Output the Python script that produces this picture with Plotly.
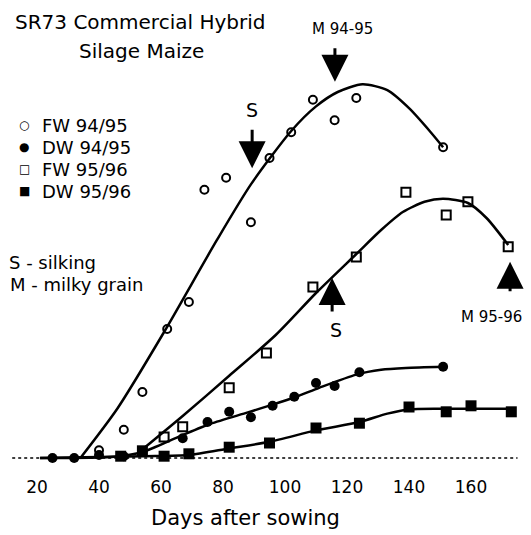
import plotly.graph_objects as go

# ---------------- data (days after sowing, arbitrary weight units) ----------------
fw9495_days = [40, 48, 54, 62, 69, 74, 81, 89, 95, 102, 109, 116, 123, 151]
fw9495_vals = [1.3, 4.7, 11.0, 21.5, 26.0, 44.7, 46.7, 39.3, 50.0, 54.3, 59.7, 56.3, 60.0, 51.8]

dw9495_days = [25, 32, 40, 48, 54, 67, 75, 82, 89, 96, 103, 110, 116, 124, 151]
dw9495_vals = [0, 0, 0.5, 0.3, 1.0, 3.3, 6.0, 7.7, 6.8, 8.7, 10.2, 12.5, 12.0, 14.3, 15.2]

fw9596_days = [61, 67, 82, 94, 109, 123, 139, 152, 159, 172]
fw9596_vals = [3.5, 5.2, 11.7, 17.5, 28.5, 33.5, 44.3, 40.5, 42.7, 35.2]

dw9596_days = [47, 54, 61, 69, 82, 95, 110, 124, 140, 152, 160, 173]
dw9596_vals = [0.3, 1.2, 0.3, 0.7, 1.8, 2.5, 5.0, 5.8, 8.5, 7.7, 8.7, 7.7]

# fitted curves
fit_fw9495_days = [34, 46, 61, 78, 89, 102, 110, 117, 125, 133, 140, 147, 151]
fit_fw9495_vals = [0, 8.3, 21.0, 36.3, 45.6, 54.5, 58.6, 61.0, 62.3, 61.3, 58.3, 54.3, 51.8]

fit_fw9596_days = [53, 67, 82, 97, 110, 123, 131, 138, 145, 151, 159, 165, 172]
fit_fw9596_vals = [1.0, 7.0, 13.7, 20.5, 27.5, 34.0, 38.0, 41.0, 42.7, 43.2, 42.5, 40.0, 35.5]

fit_dw9495_days = [21, 45, 54, 66, 76, 88, 96, 104, 111, 123, 131, 139, 151]
fit_dw9495_vals = [0, 0.2, 1.0, 3.6, 5.7, 7.6, 8.9, 10.3, 11.7, 13.9, 14.7, 15.0, 15.2]

fit_dw9596_days = [21, 54, 69, 82, 95, 110, 124, 133, 140, 150, 160, 173]
fit_dw9596_vals = [0, 0.3, 0.5, 1.6, 2.7, 4.6, 6.0, 7.4, 8.1, 8.2, 8.2, 8.2]

series_names = ["FW 94/95", "DW 94/95", "FW 95/96", "DW 95/96"]
legend_symbols = ["○", "●", "□", "■"]
tick_days = [20, 40, 60, 80, 100, 120, 140, 160]

FONT = "DejaVu Sans"
fig = go.Figure()

# fitted lines
for dd, vv in [(fit_fw9495_days, fit_fw9495_vals), (fit_fw9596_days, fit_fw9596_vals),
               (fit_dw9495_days, fit_dw9495_vals), (fit_dw9596_days, fit_dw9596_vals)]:
    fig.add_trace(go.Scatter(x=dd, y=vv, mode="lines", showlegend=False,
                             line=dict(color="black", width=2.5, shape="spline", smoothing=0.7),
                             hoverinfo="skip", cliponaxis=False))

markers = [
    (fw9495_days, fw9495_vals, dict(symbol="circle-open", size=8, color="black", line=dict(width=2, color="black"))),
    (dw9495_days, dw9495_vals, dict(symbol="circle", size=10, color="black")),
    (fw9596_days, fw9596_vals, dict(symbol="square-open", size=9, color="black", line=dict(width=2, color="black"))),
    (dw9596_days, dw9596_vals, dict(symbol="square", size=11, color="black")),
]
for name, (dd, vv, mk) in zip(series_names, markers):
    fig.add_trace(go.Scatter(x=dd, y=vv, mode="markers", name=name, marker=mk,
                             cliponaxis=False, showlegend=False))

# baseline
fig.add_shape(type="line", x0=12, x1=175, y0=0, y1=0, xref="x", yref="y",
              line=dict(color="black", width=1.5, dash="dot"))

ann = []
# arrows (text-less)
for (x, y, ay) in [(89.4, 48.3, -40), (116.1, 62.7, -35), (115.2, 30.0, 35), (172.6, 32.7, 31)]:
    ann.append(dict(x=x, y=y, xref="x", yref="y", ax=0, ay=ay, text="", showarrow=True,
                    arrowhead=2, arrowsize=1.8, arrowwidth=3, arrowcolor="black"))
# arrow labels
for (x, y, t, s) in [(89.4, 58.0, "S", 19), (118.7, 71.5, "M 94-95", 15),
                     (116.5, 21.3, "S", 19), (166.5, 23.5, "M 95-96", 15)]:
    ann.append(dict(x=x, y=y, xref="x", yref="y", text=t, showarrow=False,
                    font=dict(family=FONT, size=s, color="black")))

H = 475.0
def py(p):
    return (H - p) / H
def px(p):
    return (p - 6) / 521.0

ann += [
    dict(x=px(140), y=py(22), text="SR73 Commercial Hybrid", size=20, xanchor="center"),
    dict(x=px(141), y=py(51), text="Silage Maize", size=20, xanchor="center"),
    dict(x=px(7), y=py(262), text="S - silking", size=18, xanchor="left"),
    dict(x=px(8), y=py(284), text="M - milky grain", size=18, xanchor="left"),
    dict(x=px(245), y=py(518), text="Days after sowing", size=21, xanchor="center"),
]
# hand-drawn style legend (text symbols)
for i, (sym, name) in enumerate(zip(legend_symbols, series_names)):
    yy = 125 + i * 22
    ann.append(dict(x=px(24), y=py(yy), text=sym, size=12, xanchor="center"))
    ann.append(dict(x=px(40), y=py(yy), text=name, size=18, xanchor="left"))

for a in ann:
    if "size" in a:
        s = a.pop("size")
        a.update(xref="paper", yref="paper", showarrow=False, yanchor="middle",
                 font=dict(family=FONT, size=s, color="black"))

fig.update_layout(
    width=531, height=535,
    margin=dict(l=6, r=4, t=0, b=60, autoexpand=False),
    paper_bgcolor="white", plot_bgcolor="white",
    font=dict(family=FONT, color="black"),
    xaxis=dict(range=[10, 178.06], tickvals=tick_days, ticktext=[str(t) for t in tick_days],
               showgrid=False, zeroline=False, showline=False, ticks="",
               tickfont=dict(family=FONT, size=17, color="black")),
    yaxis=dict(range=[-2.833, 76.333], visible=False),
    annotations=ann,
    showlegend=False,
)

fig.write_html("out.html", config={"displayModeBar": False},
               post_script="document.body.style.margin='0';document.body.style.overflow='hidden';")
